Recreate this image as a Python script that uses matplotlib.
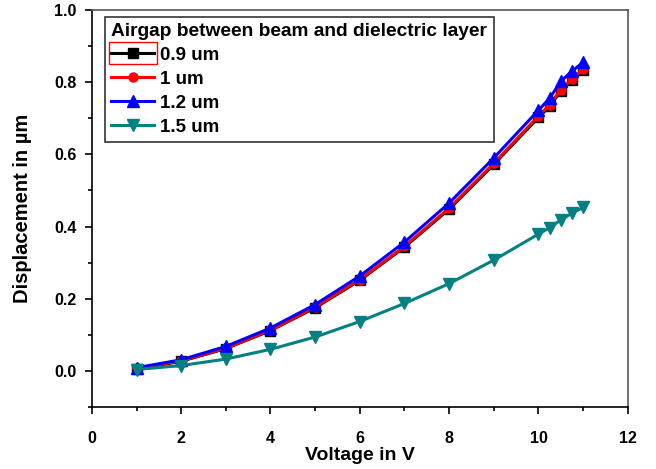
import matplotlib
matplotlib.use("Agg")
import matplotlib.pyplot as plt
from matplotlib.ticker import MultipleLocator
from matplotlib.patches import Rectangle

plt.rcParams['font.family'] = ['Liberation Sans', 'DejaVu Sans']

voltage = [1, 2, 3, 4, 5, 6, 7, 8, 9, 10, 10.25, 10.5, 10.75, 11]
d_09 = [0.005, 0.027, 0.062, 0.112, 0.175, 0.251, 0.343, 0.448, 0.572, 0.702, 0.733, 0.775, 0.805, 0.833]
d_10 = [0.007, 0.028, 0.063, 0.113, 0.177, 0.253, 0.345, 0.451, 0.575, 0.706, 0.737, 0.779, 0.808, 0.836]
d_12 = [0.009, 0.031, 0.068, 0.119, 0.184, 0.263, 0.357, 0.465, 0.590, 0.722, 0.755, 0.802, 0.830, 0.855]
d_15 = [0.004, 0.015, 0.033, 0.060, 0.094, 0.137, 0.187, 0.242, 0.307, 0.379, 0.397, 0.418, 0.437, 0.453]
labels = ['0.9 um', '1 um', '1.2 um', '1.5 um']
legend_title = 'Airgap between beam and dielectric layer'

fig = plt.figure(figsize=(6.56, 4.69), dpi=100)
ax = fig.add_axes([0.140, 0.132, 0.817, 0.847])

ax.plot(voltage, d_09, color='black', marker='s', ms=6.5, lw=2.2, label=labels[0])
ax.plot(voltage, d_10, color='red', marker='o', ms=6.5, lw=2.2, label=labels[1])
ax.plot(voltage, d_12, color='blue', marker='^', ms=8, lw=2.2, label=labels[2])
ax.plot(voltage, d_15, color='#008080', marker='v', ms=8, lw=2.2, label=labels[3])

ax.set_xlim(0, 12)
ax.set_ylim(-0.1, 1.0)
ax.xaxis.set_major_locator(MultipleLocator(2))
ax.xaxis.set_minor_locator(MultipleLocator(1))
ax.yaxis.set_major_locator(MultipleLocator(0.2))
ax.yaxis.set_minor_locator(MultipleLocator(0.1))
ax.tick_params(which='major', direction='out', length=5, width=1.2, labelsize=11.5, pad=6)
ax.tick_params(axis='x', which='major', pad=12)
ax.tick_params(which='minor', direction='out', length=3, width=1.2)
for lab in ax.get_xticklabels() + ax.get_yticklabels():
    lab.set_fontweight('bold')
for s in ax.spines.values():
    s.set_linewidth(1.2)
ax.spines['right'].set_color('#555555')
ax.spines['top'].set_color('#555555')

ax.set_xlabel('Voltage in V', fontsize=14, fontweight='bold', labelpad=1)
ax.set_ylabel('Displacement in µm', fontsize=14.5, fontweight='bold', labelpad=16)

leg = ax.legend(loc='upper left', bbox_to_anchor=(0.024, 0.983), title=legend_title,
                prop={'weight': 'bold', 'size': 13.5}, frameon=True, fancybox=False,
                edgecolor='black', handlelength=2.3, handletextpad=0.3,
                labelspacing=0.36, borderpad=0.35, borderaxespad=0,
                alignment='left', markerscale=1.0)
leg.get_title().set_fontweight('bold')
leg.get_title().set_fontsize(13.8)
leg.get_frame().set_linewidth(1.2)

# red selection box around the first legend handle
fig.canvas.draw()
bb = leg.get_lines()[0].get_window_extent(fig.canvas.get_renderer())
fw, fh = fig.bbox.width, fig.bbox.height
pad_x, pad_y = 0, 11
fig.patches.append(Rectangle(((bb.x0 + 2) / fw, (bb.y0 + bb.height / 2 - pad_y) / fh),
                             (bb.width - 4) / fw, 2 * pad_y / fh,
                             transform=fig.transFigure, fill=False, edgecolor='red',
                             linewidth=1.0, zorder=10))

fig.savefig('out.png', dpi=100)
